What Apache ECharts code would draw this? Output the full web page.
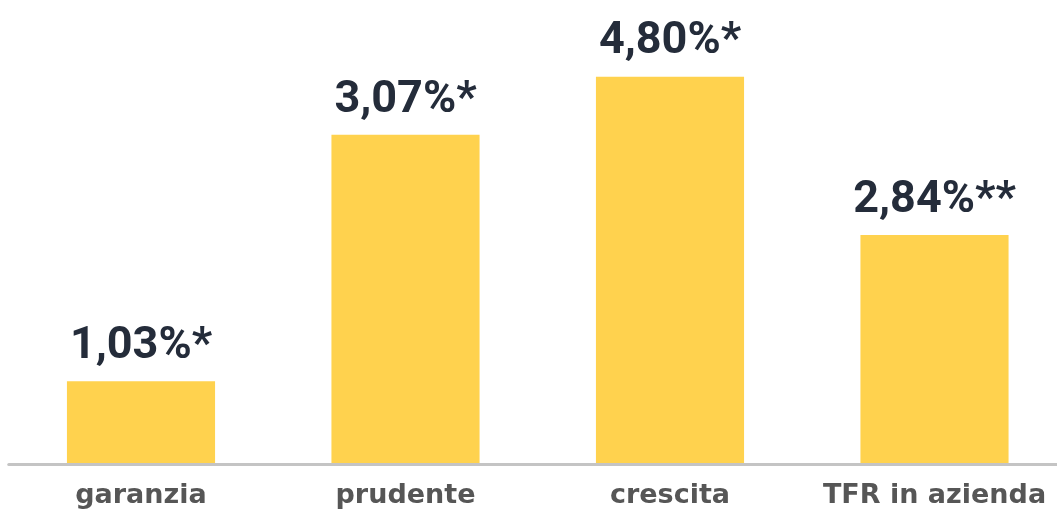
<!DOCTYPE html>
<html>
<head>
<meta charset="utf-8">
<script src="https://cdn.jsdelivr.net/npm/echarts@6/dist/echarts.min.js"></script>
<style>
  html, body { margin: 0; padding: 0; background: #fff; }
  #chart { width: 1057px; height: 510px; }
</style>
</head>
<body>
<div id="chart"></div>
<script>
// bar heights; labels as printed
var categories = ['garanzia', 'prudente', 'crescita', 'TFR in azienda'];
var values = [1.03, 4.08, 4.80, 2.84];
var valueLabels = ['1,03%*', '3,07%*', '4,80%*', '2,84%**'];

document.addEventListener("DOMContentLoaded", () => {
  echarts.init(document.querySelector("#chart")).setOption({
    animation: false,
    grid: {
      left: 8.75,
      width: 1058,
      top: 60.5,
      bottom: 45.5,
      outerBoundsMode: 'none'
    },
    xAxis: {
      type: 'category',
      data: categories,
      z: 5,
      axisLine: {
        lineStyle: { color: '#c4c4c4', width: 3 }
      },
      axisTick: { show: false },
      axisLabel: {
        interval: 0,
        margin: 18,
        fontFamily: 'DejaVu Sans',
        fontWeight: 'bold',
        fontSize: 27,
        color: '#565656'
      }
    },
    yAxis: {
      type: 'value',
      min: 0,
      max: 5,
      show: false,
      splitLine: { show: false }
    },
    series: [{
      type: 'bar',
      barWidth: '56%',
      data: values,
      itemStyle: { color: '#FFD24E' },
      label: {
        show: true,
        position: 'top',
        distance: 12,
        fontFamily: 'Roboto',
        fontWeight: 'bold',
        fontSize: 45,
        color: '#242C3A',
        formatter: function (p) { return valueLabels[p.dataIndex]; }
      }
    }]
  });
});
</script>
</body>
</html>
